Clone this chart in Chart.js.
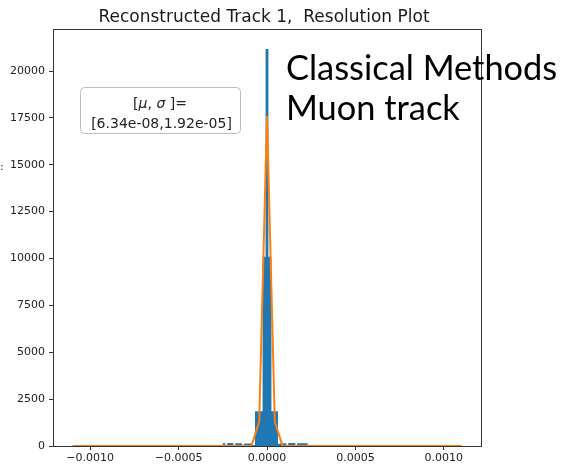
<!DOCTYPE html>
<html>
<head>
<meta charset="utf-8">
<script src="https://cdn.jsdelivr.net/npm/chart.js@4.4.1/dist/chart.umd.min.js"></script>
<style>
  html, body { margin: 0; padding: 0; background: #fff; }
  #wrap { width: 562px; height: 466px; }
</style>
</head>
<body>
<div id="wrap"><canvas id="res-plot" width="562" height="466"></canvas></div>
<script>
// residual histogram (left bin edges + counts), last edge closes the histogram
const binEdges = [-0.0011, -0.00025, -0.000235, -0.000225, -0.00019, -0.00018, -0.00014, -0.00013,
  -0.000085, -0.000068, -0.000025, -0.000008, 0.000008, 0.000025, 0.000062, 0.000074,
  0.00011, 0.00012, 0.00016, 0.00017, 0.00023, 0.0011];
const binCounts = [0, 150, 0, 160, 0, 150, 0, 140,
  60, 1850, 10100, 21170, 10100, 1850, 120, 150,
  0, 160, 0, 150, 0, 0];

// gaussian fit curve
const fitX = [-0.0011, -0.000088, -0.000044, 0, 0.000044, 0.000088, 0.0011];
const fitY = [0, 0, 1300, 17600, 1300, 0, 0];

const xTicks = [-0.001, -0.0005, 0, 0.0005, 0.001];
const yTicks = [0, 2500, 5000, 7500, 10000, 12500, 15000, 17500, 20000];

const titleText = 'Reconstructed Track 1,  Resolution Plot';
const fitParams = '[6.34e-08,1.92e-05]';
const noteLines = ['Classical Methods', 'Muon track'];

const histPoints = binEdges.map((x, i) => ({ x: x, y: binCounts[i] }));
const fitPoints = fitX.map((x, i) => ({ x: x, y: fitY[i] }));

// box around the axes, drawn under the data like matplotlib spines
const spines = {
  id: 'spines',
  beforeDatasetsDraw(chart) {
    const { ctx, chartArea: a } = chart;
    ctx.save();
    ctx.strokeStyle = '#333';
    ctx.lineWidth = 1;
    ctx.strokeRect(Math.round(a.left) + 0.5, Math.round(a.top) + 0.5,
      Math.round(a.right - a.left), Math.round(a.bottom - a.top));
    ctx.restore();
  }
};

function roundRect(ctx, x, y, w, h, r) {
  ctx.beginPath();
  ctx.moveTo(x + r, y);
  ctx.arcTo(x + w, y, x + w, y + h, r);
  ctx.arcTo(x + w, y + h, x, y + h, r);
  ctx.arcTo(x, y + h, x, y, r);
  ctx.arcTo(x, y, x + w, y, r);
  ctx.closePath();
}

// draws runs of text with their own fonts, centred on cx
function drawRuns(ctx, runs, cx, y) {
  let total = 0;
  runs.forEach(r => { ctx.font = r.font; total += ctx.measureText(r.text).width; });
  let x = cx - total / 2;
  runs.forEach(r => {
    ctx.font = r.font;
    ctx.fillText(r.text, x, y);
    x += ctx.measureText(r.text).width;
  });
}

const annotations = {
  id: 'annotations',
  afterDraw(chart) {
    const { ctx } = chart;
    ctx.save();
    ctx.textBaseline = 'alphabetic';
    ctx.textAlign = 'left';

    // title
    ctx.fillStyle = '#1a1a1a';
    ctx.font = '17px "DejaVu Sans"';
    const tw = ctx.measureText(titleText).width;
    ctx.fillText(titleText, 264 - tw / 2, 22);

    // fit parameters box
    roundRect(ctx, 80.5, 87.5, 160, 46, 4);
    ctx.fillStyle = 'rgba(255,255,255,0.8)';
    ctx.fill();
    ctx.strokeStyle = '#bdbdbd';
    ctx.lineWidth = 1;
    ctx.stroke();
    ctx.fillStyle = '#222';
    const f = '14px "DejaVu Sans"';
    const fi = 'italic 14px "DejaVu Sans"';
    drawRuns(ctx, [
      { text: '[', font: f }, { text: 'μ', font: fi }, { text: ', ', font: f },
      { text: 'σ', font: fi }, { text: ' ]=', font: f }
    ], 160, 108);
    drawRuns(ctx, [{ text: fitParams, font: f }], 161.5, 128);

    // overlay caption
    ctx.fillStyle = '#000';
    ctx.font = '34.4px Lato';
    ctx.fillText(noteLines[0], 286, 80);
    ctx.fillText(noteLines[1], 286, 120);

    // clipped axis label remnant
    ctx.fillStyle = '#222';
    ctx.font = '11px "DejaVu Sans"';
    ctx.fillText(':', 0, 170);
    ctx.restore();
  }
};

new Chart(document.getElementById('res-plot'), {
  type: 'line',
  data: {
    datasets: [
      {
        label: 'fit',
        data: fitPoints,
        borderColor: '#ff7f0e',
        borderWidth: 2,
        pointRadius: 0,
        tension: 0,
        fill: false
      },
      {
        label: 'residuals',
        data: histPoints,
        stepped: 'before',
        borderColor: 'rgba(0,0,0,0)',
        borderWidth: 0,
        backgroundColor: '#1f77b4',
        pointRadius: 0,
        fill: 'origin'
      }
    ]
  },
  options: {
    responsive: false,
    animation: false,
    events: [],
    layout: { padding: { left: 0, top: 29, right: 81, bottom: 0 } },
    plugins: {
      legend: { display: false },
      tooltip: { enabled: false },
      title: { display: false }
    },
    scales: {
      x: {
        type: 'linear',
        min: -0.00121,
        max: 0.00121,
        afterBuildTicks: axis => { axis.ticks = xTicks.map(v => ({ value: v })); },
        afterFit: axis => { axis.height = 20; },
        border: { display: false },
        grid: { drawOnChartArea: false, drawTicks: true, tickLength: 4, color: '#333' },
        ticks: {
          padding: 2,
          maxRotation: 0,
          color: '#222',
          font: { family: 'DejaVu Sans', size: 11 },
          callback: v => v.toFixed(4).replace('-', '\u2212')
        }
      },
      y: {
        type: 'linear',
        min: 0,
        max: 22240,
        afterBuildTicks: axis => { axis.ticks = yTicks.map(v => ({ value: v })); },
        afterFit: axis => { axis.width = 53; },
        border: { display: false },
        grid: { drawOnChartArea: false, drawTicks: true, tickLength: 4, color: '#333' },
        ticks: {
          padding: 4,
          color: '#222',
          font: { family: 'DejaVu Sans', size: 11 },
          callback: v => String(v)
        }
      }
    }
  },
  plugins: [spines, annotations]
});
</script>
</body>
</html>
